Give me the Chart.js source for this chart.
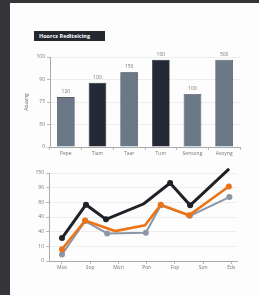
<!DOCTYPE html>
<html>
<head>
<meta charset="utf-8">
<script src="https://cdn.jsdelivr.net/npm/chart.js@4"></script>
<style>
  html, body { margin: 0; padding: 0; }
  body { width: 259px; height: 295px; background: #35353a; position: relative; overflow: hidden; }
  #page { position: absolute; left: 10px; top: 3px; width: 249px; height: 292px; background: #fdfdfd; }
  #title { position: absolute; left: 34px; top: 31px; width: 71px; height: 10px; background: #24272d;
           color: #fff; font: bold 5.5px "Open Sans", sans-serif; line-height: 10px; padding-left: 5px; box-sizing: border-box; white-space: nowrap; }
  canvas { position: absolute; }
  #bar { left: 24px; top: 50px; }
  #line { left: 24px; top: 166px; }
</style>
</head>
<body>
<div id="page"></div>
<div id="title">Hoorcs Rediteicing</div>
<canvas id="bar" width="222" height="110"></canvas>
<canvas id="line" width="222" height="108"></canvas>
<script>
// bar chart data
const barCategories = ['Pepe', 'Tiam', 'Taar', 'Tum', 'Sensong', 'Avoyng'];
const barValues = [55.5, 71.5, 83, 97, 59, 97];
const barTopLabels = ['120', '100', '150', '100', '100', '500'];
const barYTickLabels = ['0', '50', '75', '90', '100'];
const barColors = ['#6b7888', '#232a36', '#6b7888', '#232a36', '#6b7888', '#6b7888'];

// line chart data
const lineXLabels = ['Mso', 'Sop', 'Mun', 'Pon', 'Fop', 'Son', 'Eds'];
const lineYTickLabels = ['0', '10', '40', '40', '80', '90', '150'];
const blackX = [0, 0.85, 1.56, 2.9, 3.83, 4.54, 5.92];
const blackY = [39, 96, 71, 97.5, 133, 95, 157];
const orangeX = [0, 0.82, 1.88, 2.94, 3.5, 4.5, 5.91];
const orangeY = [20, 69, 51, 61, 96, 78, 127];
const grayX = [0, 0.82, 1.6, 2.97, 3.5, 4.53, 5.93];
const grayY = [11, 68, 47, 48, 95, 77, 109];

const font = { family: '"Open Sans", sans-serif', size: 5 };
const tickColor = '#777';

const pts = (xs, ys) => xs.map((x, i) => ({ x: x, y: ys[i] }));

// draws the small labels above each bar
const barLabelPlugin = {
  id: 'barLabels',
  afterDatasetsDraw(chart) {
    const ctx = chart.ctx;
    const meta = chart.getDatasetMeta(0);
    ctx.save();
    ctx.font = '5px "Open Sans", sans-serif';
    ctx.fillStyle = '#777';
    ctx.textAlign = 'center';
    ctx.textBaseline = 'bottom';
    meta.data.forEach((bar, i) => {
      ctx.fillText(barTopLabels[i], bar.x, bar.y - 3);
    });
    ctx.restore();
  }
};

new Chart(document.getElementById('bar'), {
  type: 'bar',
  data: {
    labels: barCategories,
    datasets: [{
      data: barValues,
      backgroundColor: barColors,
      borderColor: '#1c1f25',
      borderWidth: 0.6,
      barPercentage: 0.62,
      categoryPercentage: 0.9
    }]
  },
  options: {
    responsive: false,
    animation: false,
    layout: { padding: { top: 7, right: 6, left: 0, bottom: 0 } },
    plugins: { legend: { display: false }, tooltip: { enabled: false } },
    scales: {
      x: {
        grid: { drawOnChartArea: false, tickLength: 3, color: '#bbb', offset: true },
        border: { color: '#aaa' },
        ticks: { font: font, color: tickColor, padding: 1 },
        afterFit: (s) => { s.height = 13; }
      },
      y: {
        min: 0, max: 100,
        afterBuildTicks: (s) => { s.ticks = barYTickLabels.map((_, i) => ({ value: i * 25 })); },
        grid: { color: '#eeeeee', tickLength: 3, tickColor: '#bbb' },
        border: { color: '#aaa' },
        ticks: { font: font, color: tickColor, padding: 2, callback: (v, i) => barYTickLabels[i] },
        title: { display: true, text: 'Aouvng', font: font, color: '#666', padding: 0 },
        afterFit: (s) => { s.width = 26; }
      }
    }
  },
  plugins: [barLabelPlugin]
});

new Chart(document.getElementById('line'), {
  type: 'line',
  data: {
    datasets: [
      { data: pts(blackX, blackY), borderColor: '#1e2126', backgroundColor: '#1e2126', borderWidth: 3,
        pointRadius: [3, 3, 3, 0, 3, 3, 3], pointBorderWidth: 0, clip: false },
      { data: pts(orangeX, orangeY), borderColor: '#ea7417', backgroundColor: '#ea7417', borderWidth: 2.6,
        pointRadius: [3, 3, 0, 0, 3, 3, 3], pointBorderWidth: 0, clip: false },
      { data: pts(grayX, grayY), borderColor: '#8c96a4', backgroundColor: '#8c96a4', borderWidth: 2,
        pointRadius: 3, pointBorderWidth: 0, clip: false }
    ]
  },
  options: {
    responsive: false,
    animation: false,
    layout: { padding: { top: 7, right: 9, left: 0, bottom: 0 } },
    plugins: { legend: { display: false }, tooltip: { enabled: false } },
    scales: {
      x: {
        type: 'linear',
        min: -0.46, max: 6.2,
        afterBuildTicks: (s) => { s.ticks = lineXLabels.map((_, i) => ({ value: i })); },
        grid: { drawOnChartArea: false, tickLength: 3, color: '#bbb' },
        border: { color: '#aaa' },
        ticks: { font: font, color: tickColor, padding: 1, callback: (v) => lineXLabels[v] },
        afterFit: (s) => { s.height = 13; }
      },
      y: {
        min: 0, max: 150,
        afterBuildTicks: (s) => { s.ticks = lineYTickLabels.map((_, i) => ({ value: i * 25 })); },
        grid: { color: '#eeeeee', tickLength: 3, tickColor: '#bbb' },
        border: { color: '#aaa' },
        ticks: { font: font, color: tickColor, padding: 2, callback: (v, i) => lineYTickLabels[i] },
        afterFit: (s) => { s.width = 25; }
      }
    }
  }
});
</script>
</body>
</html>
